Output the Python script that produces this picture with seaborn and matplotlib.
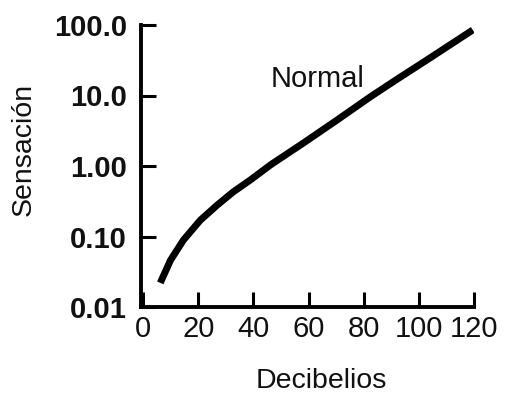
import matplotlib
matplotlib.use("Agg")
import matplotlib.pyplot as plt
import seaborn as sns
import pandas as pd

# values (decibels vs. sensation, log scale)
decibelios = [6.2, 9.9, 14.6, 20.7, 26.9, 32.7, 38.8, 46.4, 58, 70.4, 82.3, 92.1, 103, 119.6]
sensacion = [0.022, 0.046, 0.089, 0.17, 0.28, 0.43, 0.63, 1.05, 2.1, 4.5, 9.5, 17, 32, 85]

x_ticks = [0, 20, 40, 60, 80, 100, 120]
y_ticks = [0.01, 0.1, 1, 10, 100]
y_tick_labels = ["0.01", "0.10", "1.00", "10.0", "100.0"]

sns.set_theme(style="white")
plt.rcParams["font.family"] = ["Liberation Sans", "DejaVu Sans"]
plt.rcParams["xtick.direction"] = "in"
plt.rcParams["ytick.direction"] = "in"
plt.rcParams["xtick.bottom"] = True
plt.rcParams["ytick.left"] = True
plt.rcParams["xtick.major.size"] = 11
plt.rcParams["ytick.major.size"] = 11
plt.rcParams["xtick.major.width"] = 2.2
plt.rcParams["ytick.major.width"] = 2.2

df = pd.DataFrame({"Decibelios": decibelios, "Sensación": sensacion})

fig = plt.figure(figsize=(5.09, 4.0), dpi=100)
ax = fig.add_axes([0.277, 0.2325, 0.654, 0.705])

sns.lineplot(data=df, x="Decibelios", y="Sensación", ax=ax,
             color="black", linewidth=5, solid_capstyle="butt",
             solid_joinstyle="round")

ax.set_yscale("log")
ax.set_xlim(-0.8, 120)
ax.set_ylim(0.01, 100)

ax.set_yticks(y_ticks)
ax.set_yticklabels(y_tick_labels, fontsize=21, fontweight="bold", color="#111111")
ax.minorticks_off()
ax.set_xticks(x_ticks)
ax.set_xticklabels([str(t) for t in x_ticks], fontsize=21, color="#111111")

ax.tick_params(axis="both", which="major", direction="in", length=11, width=2.2,
               color="black", left=True, bottom=True)
ax.tick_params(axis="y", pad=10)
ax.tick_params(axis="x", pad=6)

sns.despine(ax=ax)
for side in ["left", "bottom"]:
    ax.spines[side].set_linewidth(2.8)
    ax.spines[side].set_color("black")

ax.set_xlabel("Decibelios", fontsize=20.5, color="#111111")
ax.set_ylabel("Sensación", fontsize=20.5, color="#111111")
ax.xaxis.set_label_coords(0.543, -0.215)
ax.yaxis.set_label_coords(-0.312, 0.557)

ax.text(63.4, 17, "Normal", fontsize=21, ha="center", va="center", color="#111111")

fig.savefig("out.png", dpi=100)
